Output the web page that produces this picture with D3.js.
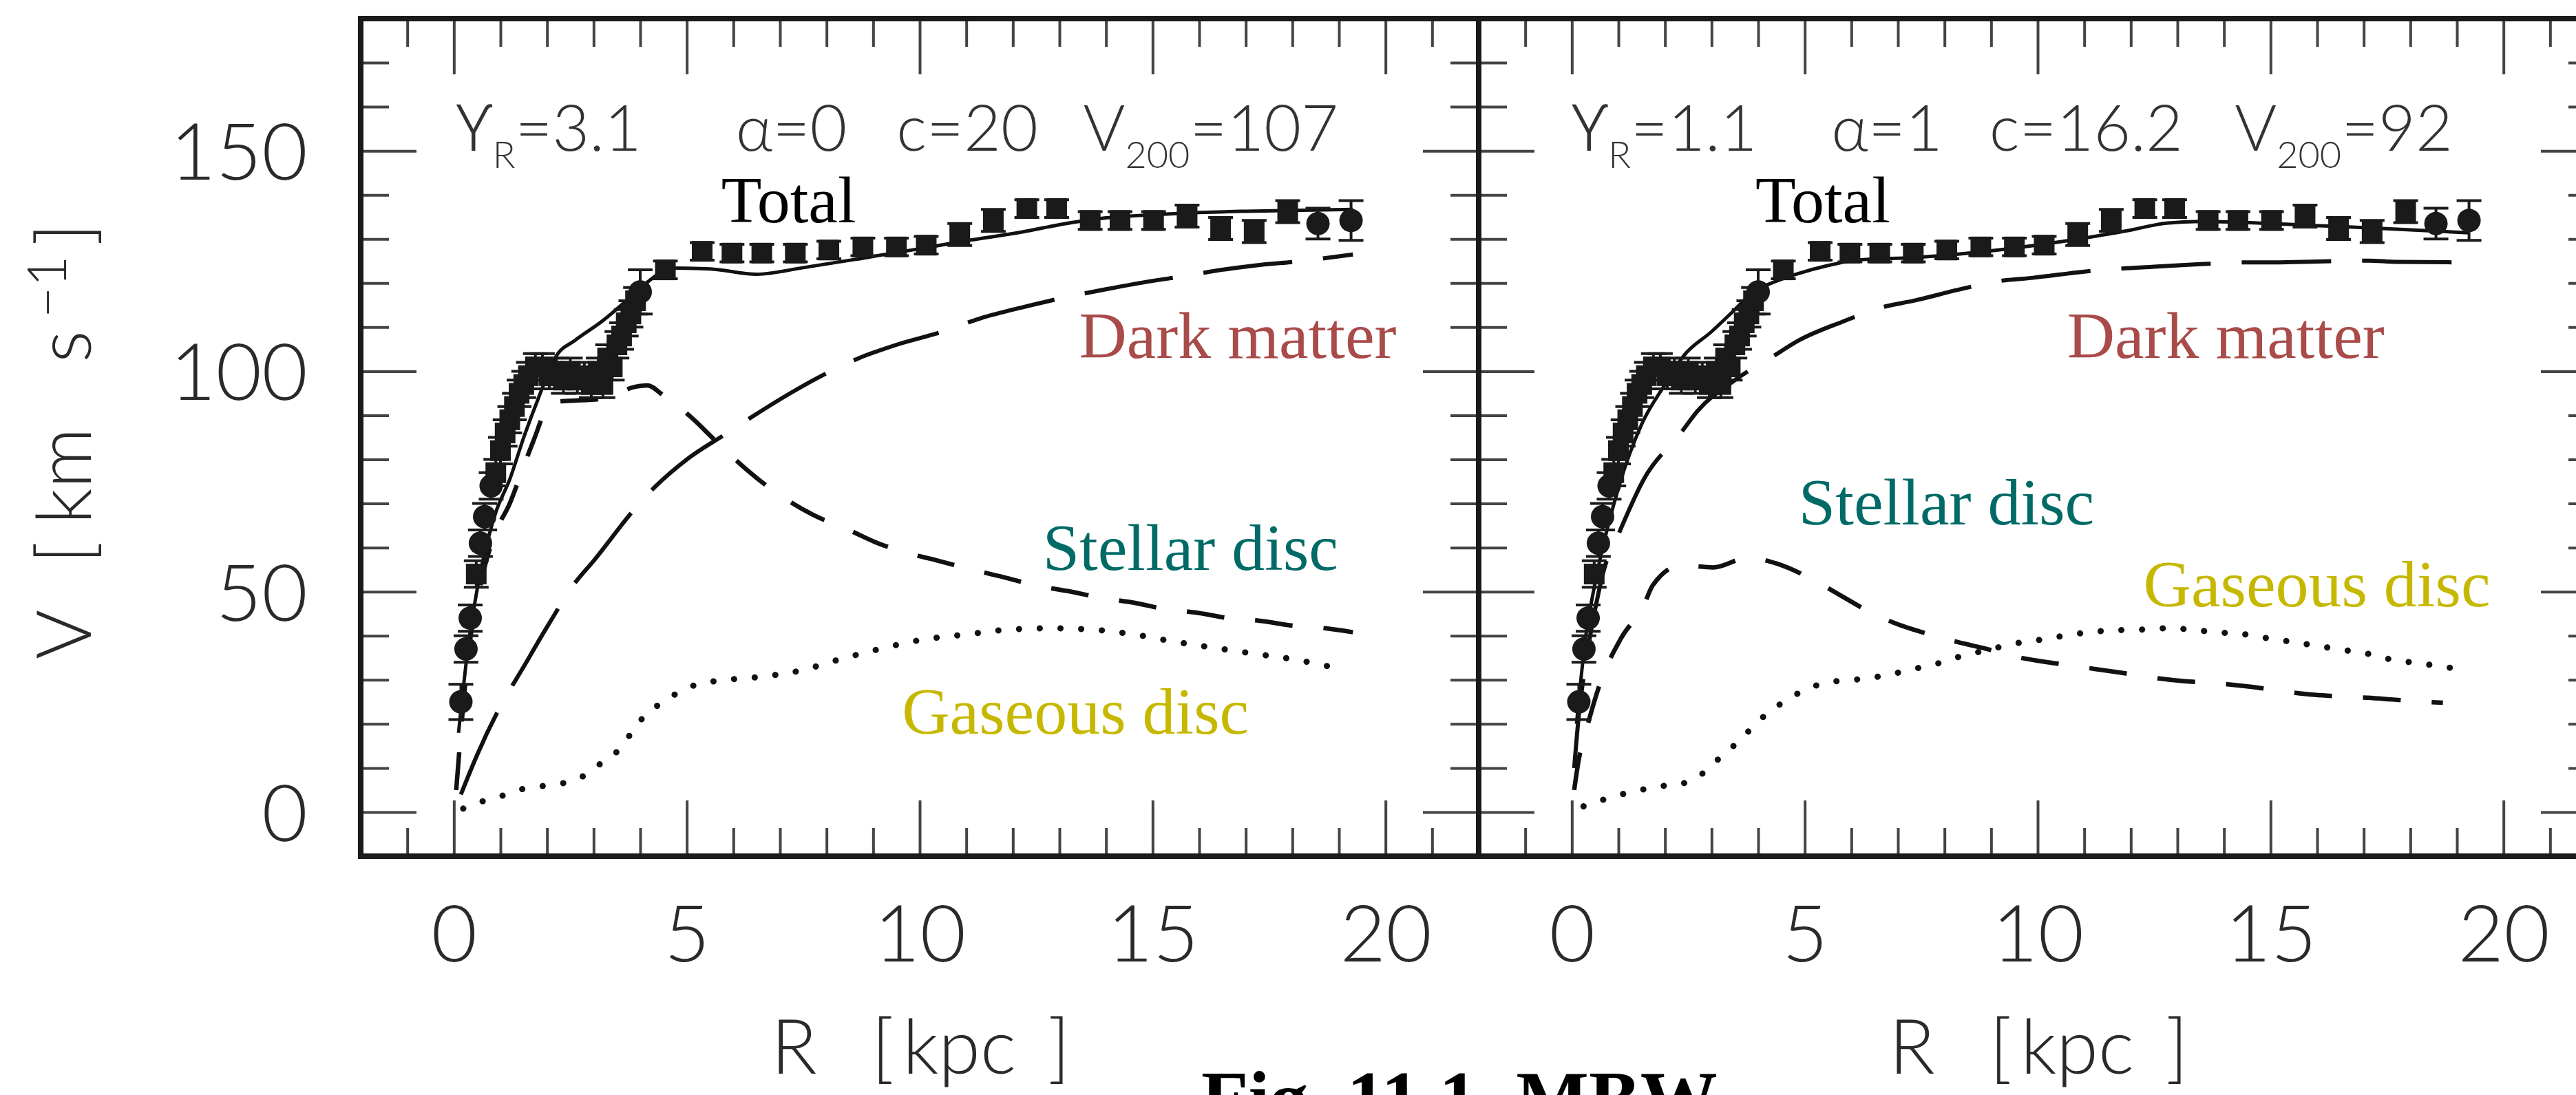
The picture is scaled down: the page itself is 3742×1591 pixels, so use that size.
<!DOCTYPE html>
<html>
<head>
<meta charset="utf-8">
<script src="https://cdn.jsdelivr.net/npm/d3@7"></script>
<style>
  body { margin: 0; background: #fff; }
  .tick line { stroke: #444; stroke-width: 4; }
  .tick text { font-family: Lato, "DejaVu Sans", sans-serif; font-weight: 300; fill: #2a2a2a; }
</style>
</head>
<body>
<script>
// observed rotation curve (same points in both panels)
const obsR = [0.15, 0.26, 0.35, 0.48, 0.57, 0.66, 0.8, 0.9, 1.0, 1.1, 1.2, 1.3, 1.4, 1.5, 1.6, 1.75, 1.9,
  2.05, 2.2, 2.35, 2.5, 2.65, 2.8, 2.95, 3.1, 3.2, 3.3, 3.4, 3.5, 3.6, 3.7, 3.8, 3.9, 4.0,
  4.54, 5.33, 5.97, 6.61, 7.33, 8.05, 8.78, 9.5, 10.14, 10.86, 11.58, 12.3, 12.94, 13.66, 14.3,
  15.02, 15.74, 16.46, 17.18, 17.9, 18.55, 19.26];
const obsV = [25, 37, 44, 54, 61, 67, 74, 77, 82, 86, 89, 92, 95, 97, 99, 101, 101,
  99, 100, 98, 100, 98, 99, 97, 100, 97, 103, 101, 106, 108, 111, 113, 116, 118,
  123, 127.2, 126.8, 126.8, 126.8, 127.5, 128.2, 128.2, 128.6, 131, 134.2, 136.9, 136.9, 134.2, 134.2,
  134.2, 135.2, 132.4, 131.7, 136.2, 133.5, 134.2];
const obsErr = [4, 3, 3, 3, 3, 3, 3, 3, 3, 3, 3, 3, 3, 3, 3, 3, 3,
  3, 3, 3, 3, 3, 3, 3, 3, 3, 3, 3, 3, 3, 3, 3, 3, 5,
  2, 2, 2, 2, 2, 2, 2, 2, 2, 2.5, 2.5, 2, 2, 2, 2,
  2, 2.5, 2.5, 2.5, 2.5, 3.5, 4.5];
const obsMark = ["c", "c", "c", "s", "c", "c", "c", "s", "s", "s", "s", "s", "s", "s", "s", "s", "s",
  "s", "s", "s", "s", "s", "s", "s", "s", "s", "s", "s", "s", "s", "s", "s", "s", "c",
  "s", "s", "s", "s", "s", "s", "s", "s", "s", "s", "s", "s", "s", "s", "s",
  "s", "s", "s", "s", "s", "c", "c"];

// left panel model curves [R, V]
const totalLeft = [[0.1, 18], [0.3, 37], [0.6, 56], [0.9, 68], [1.2, 75.5], [1.5, 85], [1.8, 93.5], [2.2, 103.5],
  [2.6, 107], [3.2, 111.5], [3.7, 116], [4.05, 119.3], [4.7, 123.4], [5.5, 123.2], [6.5, 122], [7.5, 123.5],
  [8.86, 125.8], [10, 127.8], [11, 129.6], [12.1, 131.4], [13.3, 133.8], [14, 134.8], [15, 135.5], [16, 136],
  [17, 136.3], [18, 136.5], [19.3, 136.7]];
const darkLeft = [[0.15, 4], [0.5, 13], [1, 24], [1.5, 33], [2, 42], [2.6, 52], [3, 57], [3.9, 69], [4.34, 74],
  [5, 80], [5.87, 86], [6.45, 90], [7.3, 95.5], [8.2, 100.6], [8.7, 103], [9.5, 106], [10.5, 109], [11.3, 112],
  [12.2, 114.5], [13.1, 116.7], [14, 118.6], [15, 120.5], [15.7, 121.6], [16.3, 122.7], [17.2, 124], [18.2, 125],
  [19.3, 126.5]];
const stellarLeft = [[0.05, 5], [0.3, 35], [0.6, 53], [0.9, 63.6], [1.2, 70], [1.45, 77], [1.7, 84], [2.1, 93],
  [2.5, 93.3], [3.2, 93.8], [3.9, 96.5], [4.15, 96.8], [4.5, 94.5], [5.1, 89.5], [5.6, 84.4], [6.1, 79.4],
  [6.5, 75.8], [7.7, 67.5], [8.5, 63.9], [9.1, 61], [9.8, 58.6], [10.4, 57], [11.2, 54.8], [11.8, 53.3],
  [12.5, 51.4], [13.2, 50.1], [13.9, 48.6], [14.6, 47.5], [15.3, 46], [15.9, 45.3], [16.7, 43.9], [17.3, 43.4],
  [18, 42.3], [18.7, 41.7], [19.3, 40.8]];
const gasLeft = [[0.2, 0.8], [0.6, 2.4], [1.1, 3.9], [1.5, 5.3], [1.9, 5.9], [2.4, 6.7], [2.8, 8.3], [3.15, 11],
  [3.5, 13.7], [3.8, 17.8], [4.05, 21.3], [4.4, 24.4], [4.8, 27], [5.2, 28.9], [5.6, 29.7], [6.5, 30.6],
  [7.4, 32], [8.3, 34.7], [9.1, 36.9], [10, 39], [11, 40.3], [11.9, 41.4], [12.8, 41.7], [13.7, 41.4],
  [14.6, 40.3], [15.5, 38.6], [16.3, 37.3], [17.2, 35.9], [18, 34.7], [19.1, 32.3]];

// right panel model curves [R, V]
const totalRight = [[0.1, 20], [0.3, 40], [0.5, 52], [1, 73.5], [1.5, 88], [2, 97], [2.4, 103.5], [3, 109],
  [3.5, 114], [3.84, 117.5], [4.43, 120.6], [4.78, 121.9], [5.5, 124], [6.2, 125.3], [7.34, 125.8],
  [8.89, 127.2], [10.44, 129.3], [11.98, 132], [12.76, 133.6], [13.5, 134], [14.3, 133.8], [15.85, 133.1],
  [17.4, 132.4], [19.26, 131.4]];
const darkRight = [[0.05, 10], [0.15, 22], [0.3, 34], [0.5, 46], [0.69, 55], [1, 63], [1.55, 75.6], [2.34, 86],
  [2.7, 91], [3.5, 98], [4.32, 103.4], [4.87, 107], [5.8, 111.2], [6.73, 114.7], [7.34, 116], [8.3, 118.5],
  [9.2, 120.5], [9.9, 121.2], [11, 122.6], [11.8, 123.3], [12.5, 123.7], [13.5, 124.3], [14.5, 124.7],
  [15.1, 124.7], [16, 124.9], [17.1, 125.1], [17.7, 124.8], [19.26, 124.7]];
const stellarRight = [[0.05, 5], [0.14, 11.4], [0.32, 19], [0.6, 29], [1.06, 39.5], [1.53, 46.6], [1.74, 51.5],
  [2.35, 56], [3.03, 55.5], [3.78, 57.7], [4.39, 56.4], [5.07, 53.3], [5.68, 49.7], [6.29, 46], [6.9, 43],
  [7.65, 40.4], [8.27, 38.6], [8.95, 36.9], [9.64, 35], [10.37, 33.75], [11, 32.8], [11.8, 31.6], [12.4, 30.6],
  [13.15, 29.7], [13.76, 29.3], [14.6, 28.4], [15.2, 27.5], [15.94, 26.6], [16.56, 26.2], [17.3, 25.8],
  [17.9, 25.3], [18.7, 24.8]];
const gasRight = [[0.25, 1.3], [1.06, 4], [1.87, 5.8], [2.42, 6.6], [2.76, 8.4], [3.1, 11.6], [3.44, 14.7],
  [3.78, 18.2], [4.12, 21.7], [4.46, 24.4], [4.87, 27], [5.27, 28.8], [5.68, 29.7], [6.23, 30.2], [6.77, 31.1],
  [7.31, 32.4], [7.85, 33.7], [8.4, 35.5], [8.94, 36.8], [9.49, 38.2], [10, 39], [10.57, 40], [11.1, 40.8],
  [11.66, 41.25], [12.2, 41.4], [12.75, 41.7], [13.3, 41.4], [13.8, 40.8], [14.4, 40.4], [14.9, 39.5],
  [15.47, 38.6], [16, 37.7], [16.55, 36.8], [17.1, 35.9], [17.6, 34.6], [18.2, 33.75], [19.07, 32.4]];

// fit parameters shown in each panel
const paramsLeft = ["3.1", "0", "20", "107"];
const paramsRight = ["1.1", "1", "16.2", "92"];

const xMajor = [0, 5, 10, 15, 20];
const xMinor = [-1, 1, 2, 3, 4, 6, 7, 8, 9, 11, 12, 13, 14, 16, 17, 18, 19, 21];
const yMajor = [0, 50, 100, 150];
const yMinor = [10, 20, 30, 40, 60, 70, 80, 90, 110, 120, 130, 140, 160, 170];

const W = 3742, H = 1591;
const plotTop = 27, plotBottom = 1244;

const colDark = "#a84b49", colStellar = "#006a66", colGas = "#c6b800";

const svg = d3.select("body").append("svg")
  .attr("width", W).attr("height", H)
  .style("display", "block");
svg.append("rect").attr("width", W).attr("height", H).attr("fill", "#fff");

const panels = [
  { left: 524, right: 2148, total: totalLeft, dark: darkLeft, stellar: stellarLeft, gas: gasLeft,
    params: paramsLeft, pPos: [0.05, 6.05, 9.5, 13.51], yLabels: true,
    lab: { total: [5.74, 133.75], dark: [13.42, 103.1], stellar: [12.64, 54.9], gas: [9.62, 17.8] } },
  { left: 2148, right: 3772, total: totalRight, dark: darkRight, stellar: stellarRight, gas: gasRight,
    params: paramsRight, pPos: [0.0, 5.57, 8.96, 14.23], yLabels: false,
    lab: { total: [3.94, 133.75], dark: [10.63, 103.1], stellar: [4.87, 65.3], gas: [12.27, 46.6] } }
];

function drawPanel(p) {
  const x = d3.scaleLinear().domain([-2, 22]).range([p.left, p.right]);
  const y = d3.scaleLinear().domain([-10, 180]).range([plotBottom, plotTop]);
  const g = svg.append("g");

  // ticks, all pointing inwards
  g.append("g").attr("transform", `translate(0,${plotBottom})`)
    .call(d3.axisBottom(x).tickValues(xMinor).tickSize(-41).tickSizeOuter(0).tickFormat(""));
  g.append("g").attr("transform", `translate(0,${plotBottom})`)
    .call(d3.axisBottom(x).tickValues(xMajor).tickSize(-81).tickSizeOuter(0).tickPadding(71).tickFormat(d3.format("d")))
    .selectAll("text").attr("font-size", 115);
  g.append("g").attr("transform", `translate(0,${plotTop})`)
    .call(d3.axisTop(x).tickValues(xMinor).tickSize(-41).tickSizeOuter(0).tickFormat(""));
  g.append("g").attr("transform", `translate(0,${plotTop})`)
    .call(d3.axisTop(x).tickValues(xMajor).tickSize(-81).tickSizeOuter(0).tickFormat(""));

  g.append("g").attr("transform", `translate(${p.left},0)`)
    .call(d3.axisLeft(y).tickValues(yMinor).tickSize(-41).tickSizeOuter(0).tickFormat(""));
  const yl = g.append("g").attr("transform", `translate(${p.left},0)`)
    .call(d3.axisLeft(y).tickValues(yMajor).tickSize(-81).tickSizeOuter(0).tickPadding(77)
      .tickFormat(p.yLabels ? d3.format("d") : ""));
  yl.selectAll("text").attr("font-size", 115).attr("dy", "0.36em");
  g.append("g").attr("transform", `translate(${p.right},0)`)
    .call(d3.axisRight(y).tickValues(yMinor).tickSize(-41).tickSizeOuter(0).tickFormat(""));
  g.append("g").attr("transform", `translate(${p.right},0)`)
    .call(d3.axisRight(y).tickValues(yMajor).tickSize(-81).tickSizeOuter(0).tickFormat(""));
  g.selectAll(".domain").remove();

  g.append("rect")
    .attr("x", p.left).attr("y", plotTop)
    .attr("width", p.right - p.left).attr("height", plotBottom - plotTop)
    .attr("fill", "none").attr("stroke", "#1a1a1a").attr("stroke-width", 8);

  // model curves
  const line = d3.line().x(d => x(d[0])).y(d => y(d[1])).curve(d3.curveMonotoneX);
  g.append("path").datum(p.gas).attr("d", line)
    .attr("fill", "none").attr("stroke", "#111").attr("stroke-width", 9)
    .attr("stroke-linecap", "round").attr("stroke-dasharray", "0.1 30");
  g.append("path").datum(p.stellar).attr("d", line)
    .attr("fill", "none").attr("stroke", "#111").attr("stroke-width", 6.5)
    .attr("stroke-dasharray", "55 45");
  g.append("path").datum(p.dark).attr("d", line)
    .attr("fill", "none").attr("stroke", "#111").attr("stroke-width", 6)
    .attr("stroke-dasharray", "130 45");
  g.append("path").datum(p.total).attr("d", line)
    .attr("fill", "none").attr("stroke", "#111").attr("stroke-width", 5);

  // observed points with error bars
  const pts = obsR.map((r, i) => ({ r: r, v: obsV[i], e: obsErr[i], m: obsMark[i] }));
  const eb = g.append("g").attr("stroke", "#1a1a1a").attr("stroke-width", 4);
  pts.forEach(d => {
    const cx = x(d.r);
    eb.append("line").attr("x1", cx).attr("x2", cx).attr("y1", y(d.v - d.e)).attr("y2", y(d.v + d.e));
    eb.append("line").attr("x1", cx - 18).attr("x2", cx + 18).attr("y1", y(d.v - d.e)).attr("y2", y(d.v - d.e));
    eb.append("line").attr("x1", cx - 18).attr("x2", cx + 18).attr("y1", y(d.v + d.e)).attr("y2", y(d.v + d.e));
  });
  g.selectAll(".sq").data(pts.filter(d => d.m === "s")).enter().append("rect")
    .attr("x", d => x(d.r) - 15).attr("y", d => y(d.v) - 15)
    .attr("width", 30).attr("height", 30).attr("fill", "#1a1a1a");
  g.selectAll(".ci").data(pts.filter(d => d.m === "c")).enter().append("circle")
    .attr("cx", d => x(d.r)).attr("cy", d => y(d.v)).attr("r", 17).attr("fill", "#1a1a1a");

  // component labels
  const serif = "'Liberation Serif', 'Times New Roman', serif";
  const labels = [
    ["Total", p.lab.total, "#000"],
    ["Dark matter", p.lab.dark, colDark],
    ["Stellar disc", p.lab.stellar, colStellar],
    ["Gaseous disc", p.lab.gas, colGas]
  ];
  labels.forEach(l => {
    g.append("text").attr("x", x(l[1][0])).attr("y", y(l[1][1]))
      .attr("font-family", serif).attr("font-size", 96).attr("fill", l[2]).text(l[0]);
  });

  // fit parameters
  const sans = "Lato, 'DejaVu Sans', sans-serif";
  const py = y(150);
  const pt = g.append("g").attr("font-family", sans).attr("font-weight", 300)
    .attr("font-size", 93).attr("fill", "#333");
  let t = pt.append("text").attr("x", x(p.pPos[0])).attr("y", py);
  t.append("tspan").attr("font-family", "'DejaVu Sans ExtraLight', 'Noto Sans', 'DejaVu Sans', sans-serif")
    .attr("font-weight", 300).text("ϒ");
  t.append("tspan").attr("font-size", 54).attr("dy", 25).text("R");
  t.append("tspan").attr("dy", -25).text("=" + p.params[0]);
  pt.append("text").attr("x", x(p.pPos[1])).attr("y", py).text("α=" + p.params[1]);
  pt.append("text").attr("x", x(p.pPos[2])).attr("y", py).text("c=" + p.params[2]);
  t = pt.append("text").attr("x", x(p.pPos[3])).attr("y", py);
  t.append("tspan").text("V");
  t.append("tspan").attr("font-size", 54).attr("dy", 25).text("200");
  t.append("tspan").attr("dy", -25).text("=" + p.params[3]);

  // x axis title
  const cx = (p.left + p.right) / 2;
  const xt = g.append("text").attr("y", 1560)
    .attr("font-family", sans).attr("font-weight", 300).attr("font-size", 110).attr("fill", "#2a2a2a");
  xt.append("tspan").attr("x", cx - 216).text("R");
  xt.append("tspan").attr("x", cx - 70).text("[");
  xt.append("tspan").attr("x", cx - 25).text("kpc");
  xt.append("tspan").attr("x", cx + 186).text("]");
}

panels.forEach(drawPanel);

// y axis title
const yt = svg.append("text").attr("transform", "translate(132,0) rotate(-90)")
  .attr("font-family", "Lato, 'DejaVu Sans', sans-serif").attr("font-weight", 300)
  .attr("font-size", 110).attr("fill", "#2a2a2a");
yt.append("tspan").attr("x", -958).text("V");
yt.append("tspan").attr("x", -819).text("[");
yt.append("tspan").attr("x", -762).text("km");
yt.append("tspan").attr("x", -527).text("s");
yt.append("tspan").attr("x", -462).attr("dy", -36).attr("font-size", 78).text("−1");
yt.append("tspan").attr("x", -357).attr("dy", 36).text("]");

// caption, cut by the bottom edge as in the source
svg.append("text").attr("x", 1745).attr("y", 1634)
  .attr("font-family", "'Liberation Serif', 'Times New Roman', serif")
  .attr("font-weight", "bold").attr("font-size", 112).attr("fill", "#000")
  .text("Fig. 11.1. MBW");
</script>
</body>
</html>
